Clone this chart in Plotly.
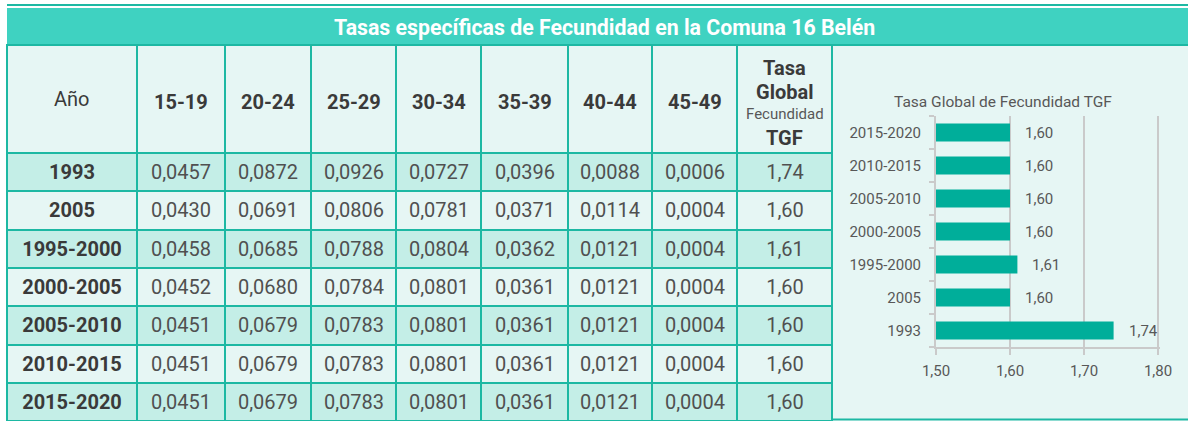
import plotly.graph_objects as go

# ---------------- data ----------------
years = ["1993", "2005", "1995-2000", "2000-2005", "2005-2010", "2010-2015", "2015-2020"]
age_groups = ["15-19", "20-24", "25-29", "30-34", "35-39", "40-44", "45-49"]
r15_19 = [0.0457, 0.0430, 0.0458, 0.0452, 0.0451, 0.0451, 0.0451]
r20_24 = [0.0872, 0.0691, 0.0685, 0.0680, 0.0679, 0.0679, 0.0679]
r25_29 = [0.0926, 0.0806, 0.0788, 0.0784, 0.0783, 0.0783, 0.0783]
r30_34 = [0.0727, 0.0781, 0.0804, 0.0801, 0.0801, 0.0801, 0.0801]
r35_39 = [0.0396, 0.0371, 0.0362, 0.0361, 0.0361, 0.0361, 0.0361]
r40_44 = [0.0088, 0.0114, 0.0121, 0.0121, 0.0121, 0.0121, 0.0121]
r45_49 = [0.0006, 0.0004, 0.0004, 0.0004, 0.0004, 0.0004, 0.0004]
tgf = [1.74, 1.60, 1.61, 1.60, 1.60, 1.60, 1.60]
x_ticks = [1.50, 1.60, 1.70, 1.80]

title_text = "Tasas específicas de Fecundidad en la Comuna 16 Belén"
chart_title = "Tasa Global de Fecundidad TGF"

# ---------------- style / layout (pixels) ----------------
W, H = 1188, 421
FONT = "Roboto"
TEAL_LINE = "#1DB8A3"
BAND = "#3FD2C1"
DARK_ROW = "#C4EEE7"
LIGHT_ROW = "#E6F6F4"
BAR = "#00AE9A"
GRID = "#CACACA"
TXT = "#3A3A3A"
NUM = "#505050"
LBL = "#585858"

col_px = [130, 88, 86, 85, 85, 87, 84, 85, 95]
table_left = 7
band_top = 8
header_top = 45
header_h = 108
row_h = 38.3

x_edges = [table_left]
for w in col_px:
    x_edges.append(x_edges[-1] + w)
y_edges = [header_top, header_top + header_h]
for _ in years:
    y_edges.append(y_edges[-1] + row_h)
table_right = x_edges[-1]


def fmt(v, d):
    return f"{v:.{d}f}".replace(".", ",")


def px(x):
    return x / W


def py(y):
    return 1 - y / H


series = [r15_19, r20_24, r25_29, r30_34, r35_39, r40_44, r45_49]
parity = [0] + [1 if i % 2 == 0 else 0 for i in range(len(years))]  # 0 light, 1 dark

fig = go.Figure()

# ---- table: year column ----
z_year = [[p] for p in parity]
t_year = [[""]] + [[y] for y in years]
fig.add_trace(go.Heatmap(
    x=x_edges[:2], y=y_edges, z=z_year, text=t_year, texttemplate="%{text}",
    textfont=dict(family=FONT, size=20, color=TXT, weight="bold"),
    colorscale=[[0, LIGHT_ROW], [1, DARK_ROW]], zmin=0, zmax=1, showscale=False,
    xgap=2, ygap=2, hoverinfo="skip", xaxis="x2", yaxis="y2",
))
# ---- table: numeric columns ----
num_cols = series + [tgf]
z_num = [[p] * len(num_cols) for p in parity]
t_num = [[""] * len(num_cols)]
for i in range(len(years)):
    t_num.append([fmt(s[i], 4) for s in series] + [fmt(tgf[i], 2)])
fig.add_trace(go.Heatmap(
    x=x_edges[1:], y=y_edges, z=z_num, text=t_num, texttemplate="%{text}",
    textfont=dict(family=FONT, size=20, color=NUM),
    colorscale=[[0, LIGHT_ROW], [1, DARK_ROW]], zmin=0, zmax=1, showscale=False,
    xgap=2, ygap=2, hoverinfo="skip", xaxis="x2", yaxis="y2",
))

# ---- bar chart ----
ypos = list(range(len(years)))
fig.add_trace(go.Bar(
    x=tgf, y=ypos, orientation="h", marker=dict(color=BAR, line=dict(width=0)),
    width=0.55, hoverinfo="skip", xaxis="x", yaxis="y",
))

annotations = []
for i, v in zip(ypos, tgf):
    annotations.append(dict(x=v, y=i, xref="x", yref="y", text=fmt(v, 2), showarrow=False,
                            xanchor="left", xshift=13,
                            font=dict(family=FONT, size=15, color=LBL)))

# header texts (pixel coordinates on x2/y2)
centers = [(a + b) / 2 for a, b in zip(x_edges[:-1], x_edges[1:])]
annotations.append(dict(x=centers[0], y=99, xref="x2", yref="y2", text="Año",
                        showarrow=False, font=dict(family=FONT, size=20, color=TXT)))
for c, g in zip(centers[1:8], age_groups):
    annotations.append(dict(x=c, y=102, xref="x2", yref="y2", text=f"<b>{g}</b>",
                            showarrow=False, font=dict(family=FONT, size=20, color=TXT)))
for txt, yy, sz, b, colr in [("Tasa", 68, 20, True, TXT), ("Global", 92, 20, True, TXT),
                             ("Fecundidad", 114, 15, False, LBL), ("TGF", 138, 20, True, TXT)]:
    annotations.append(dict(x=centers[8], y=yy, xref="x2", yref="y2",
                            text=f"<b>{txt}</b>" if b else txt, showarrow=False,
                            font=dict(family=FONT, size=sz, color=colr)))
annotations.append(dict(x=604, y=27, xref="x2", yref="y2", text=f"<b>{title_text}</b>",
                        showarrow=False, font=dict(family=FONT, size=21.3, color="white")))
annotations.append(dict(x=1003, y=102, xref="x2", yref="y2", text=chart_title,
                        showarrow=False, font=dict(family=FONT, size=15.5, color=LBL)))

shapes = [
    # teal behind table (grid lines show through heatmap gaps)
    dict(type="rect", xref="paper", yref="paper", x0=px(table_left - 1), x1=px(table_right + 1),
         y0=py(H + 2), y1=py(header_top - 1), fillcolor=TEAL_LINE, line=dict(width=0), layer="below"),
    # chart panel background
    dict(type="rect", xref="paper", yref="paper", x0=px(table_right + 1), x1=1,
         y0=py(H - 2), y1=py(header_top), fillcolor=LIGHT_ROW, line=dict(width=0), layer="below"),
    # title band
    dict(type="rect", xref="paper", yref="paper", x0=px(table_left), x1=1,
         y0=py(header_top), y1=py(band_top), fillcolor=BAND, line=dict(width=0), layer="below"),
    dict(type="line", xref="paper", yref="paper", x0=px(table_left), x1=1,
         y0=py(header_top), y1=py(header_top), line=dict(color=TEAL_LINE, width=2), layer="below"),
    # top rule
    dict(type="line", xref="paper", yref="paper", x0=px(table_left), x1=1,
         y0=py(5), y1=py(5), line=dict(color=TEAL_LINE, width=2), layer="below"),
    # bottom rule of chart panel
    dict(type="line", xref="paper", yref="paper", x0=px(table_right), x1=1,
         y0=py(H - 1.5), y1=py(H - 1.5), line=dict(color=TEAL_LINE, width=2), layer="below"),
]

x_eps = 0.003
x_span = x_ticks[-1] - x_ticks[0]
fig.update_layout(
    width=W, height=H, margin=dict(l=0, r=0, t=0, b=0, autoexpand=False),
    paper_bgcolor="white", plot_bgcolor="rgba(0,0,0,0)",
    separators=",.", showlegend=False,
    font=dict(family=FONT, color=LBL),
    annotations=annotations, shapes=shapes,
    xaxis=dict(domain=[px(936), px(936 + 222 * (x_span + x_eps) / x_span)],
               range=[x_ticks[0], x_ticks[-1] + x_eps], tickvals=x_ticks,
               tickformat=".2f", showgrid=True, gridcolor=GRID, gridwidth=2,
               showline=True, linecolor=GRID, linewidth=2, ticks="outside", ticklen=6,
               tickcolor=GRID, tickwidth=2, zeroline=False, ticklabelstandoff=3,
               tickfont=dict(family=FONT, size=15, color=LBL), fixedrange=True, automargin=False),
    yaxis=dict(domain=[py(347), py(116)], range=[-0.5, len(years) - 0.5], tickvals=ypos,
               ticktext=years, showline=True, linecolor=GRID, linewidth=2, ticks="",
               showgrid=False, zeroline=False, ticklabelstandoff=10,
               minor=dict(tickvals=[i - 0.5 for i in range(len(years) + 1)], ticks="outside",
                          ticklen=5, tickcolor=GRID, tickwidth=2, showgrid=False),
               tickfont=dict(family=FONT, size=15, color=LBL), fixedrange=True, automargin=False),
    xaxis2=dict(domain=[0, 1], range=[0, W], visible=False, fixedrange=True, automargin=False),
    yaxis2=dict(domain=[0, 1], range=[H, 0], visible=False, fixedrange=True, automargin=False),
)

fig.write_html("out.html", config={"displayModeBar": False},
               post_script="document.body.style.margin='0px';")
